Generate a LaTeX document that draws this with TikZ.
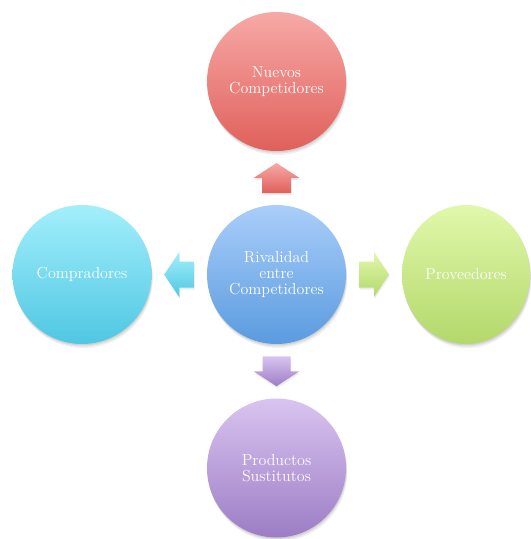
\documentclass[tikz,border=0pt]{standalone}
\usepackage{tikz}
\usetikzlibrary{calc,shapes.geometric,shadows}

\definecolor{redtop}{HTML}{F7A9A6}
\definecolor{redbot}{HTML}{E0605B}
\definecolor{bluetop}{HTML}{AACEFA}
\definecolor{bluebot}{HTML}{5A9BDF}
\definecolor{cyantop}{HTML}{A3EFFB}
\definecolor{cyanbot}{HTML}{4FC7E3}
\definecolor{greentop}{HTML}{E1F8AB}
\definecolor{greenbot}{HTML}{B3D86B}
\definecolor{purptop}{HTML}{D9C4F0}
\definecolor{purpbot}{HTML}{9C7DC5}

\tikzset{
  force/.style={circle, minimum size=104.25pt, inner sep=0pt, text=white,
    align=center, font=\fontsize{12}{12}\selectfont,
    drop shadow={shadow xshift=1pt, shadow yshift=-3pt, opacity=0.12},
    drop shadow={shadow xshift=0.6pt, shadow yshift=-1.8pt, opacity=0.15},
    drop shadow={shadow xshift=0.3pt, shadow yshift=-0.9pt, opacity=0.15}},
  push/.style={drop shadow={shadow xshift=0.5pt, shadow yshift=-1.5pt, opacity=0.15}}
}

\begin{document}
\begin{tikzpicture}[x=0.75pt, y=-0.75pt]
    \useasboundingbox (0, 0) rectangle (531, 539);
    % the five forces
    \node[force, top color=bluetop, bottom color=bluebot] (rival) at (276.5, 274.5)
      {Rivalidad\\entre\\Competidores};
    \node[force, top color=redtop, bottom color=redbot] (nuevos) at (276.5, 81.5)
      {Nuevos\\Competidores};
    \node[force, top color=cyantop, bottom color=cyanbot] (compradores) at (82, 274.5)
      {Compradores};
    \node[force, ellipse, minimum width=96pt, minimum height=104.25pt,
      top color=greentop, bottom color=greenbot] (proveedores) at (466, 274.5)
      {Proveedores};
    \node[force, top color=purptop, bottom color=purpbot] (sustitutos) at (276.5, 468)
      {Productos\\Sustitutos};
    % block arrows between them
    \coordinate (mUp) at ($(rival.north)!0.5!(nuevos.south)$);
    \coordinate (mLeft) at ($(rival.west)!0.5!(compradores.east)$);
    \coordinate (mRight) at ($(rival.east)!0.5!(proveedores.west)$);
    \coordinate (mDown) at ($(rival.south)!0.5!(sustitutos.north)$);
    \path[push, top color=redtop, bottom color=redbot, shift={(mUp)}]
      (-14.5, 15) -- (-14.5, 0) -- (-23, 0) -- (0, -15) -- (23, 0) -- (14.5, 0) -- (14.5, 15) -- cycle;
    \path[push, top color=cyantop, bottom color=cyanbot, shift={(mLeft)}]
      (15, -13) -- (0, -13) -- (0, -22.5) -- (-15, 0) -- (0, 22.5) -- (0, 13) -- (15, 13) -- cycle;
    \path[push, top color=greentop, bottom color=greenbot, shift={(mRight)}]
      (-15, -13) -- (0, -13) -- (0, -22.5) -- (15, 0) -- (0, 22.5) -- (0, 13) -- (-15, 13) -- cycle;
    \path[push, top color=purptop, bottom color=purpbot, shift={(mDown)}]
      (-14, -15) -- (-14, 0) -- (-23, 0) -- (0, 15) -- (23, 0) -- (14, 0) -- (14, -15) -- cycle;
\end{tikzpicture}
\end{document}
